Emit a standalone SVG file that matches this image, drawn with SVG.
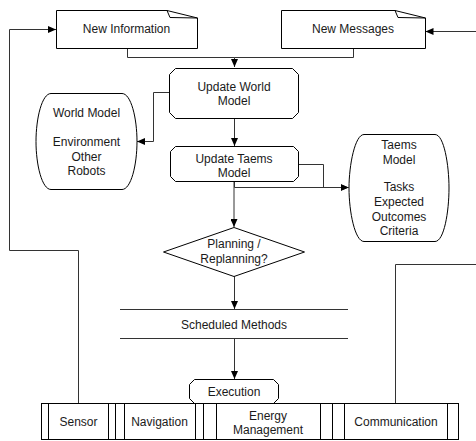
<svg xmlns="http://www.w3.org/2000/svg" width="476" height="441" viewBox="0 0 476 441">
  <style>
    .shape { fill: #fff; stroke: #000; stroke-width: 1; }
    .fold { fill: none; stroke: #000; stroke-width: 1; }
    .edge { fill: none; stroke: #333; stroke-width: 1; }
    .label { font-family: "Liberation Sans", Arial, Helvetica, sans-serif; font-size: 12px; fill: #1a1a1a; text-anchor: middle; }
  </style>
  <defs>
    <marker id="arrow" markerUnits="userSpaceOnUse" markerWidth="8" markerHeight="7" refX="8" refY="3.5" orient="auto">
      <path d="M0,0 L8,3.5 L0,7 Z" fill="#000"/>
    </marker>
  </defs>

  <rect width="476" height="441" fill="#fff"/>

  <!-- connectors -->
  <g id="connectors">
    <path class="edge" d="M127.5,48 V57.5 H234.5 V67" marker-end="url(#arrow)"/>
    <path class="edge" d="M353.5,48 V57.5 H234.5"/>
    <path class="edge" d="M169,92.5 H153.5 V141.5 H137" marker-end="url(#arrow)"/>
    <path class="edge" d="M234.5,118.5 V146" marker-end="url(#arrow)"/>
    <path class="edge" d="M298.5,164.5 H323.5 V187.5 H348.5" marker-end="url(#arrow)"/>
    <path class="edge" d="M234.5,181.5 V187.5 H348.5" marker-end="url(#arrow)"/>
    <path class="edge" d="M234,181.5 V227" marker-end="url(#arrow)" stroke="#000" stroke-width="1.5"/>
    <path class="edge" d="M234.5,276 V309" marker-end="url(#arrow)"/>
    <path class="edge" d="M234.5,338.5 V379" marker-end="url(#arrow)"/>
    <path class="edge" d="M78.5,403 V250.5 H9.5 V29.5 H56" marker-end="url(#arrow)"/>
    <path class="edge" d="M395.5,403 V264.5 H480 V31.5 H425.5" marker-end="url(#arrow)"/>
  </g>

  <!-- incoming documents -->
  <g id="new-information">
    <path class="shape" d="M56.5,10.5 H167 L197.5,18 V48.5 H56.5 Z"/>
    <path class="fold" d="M167,10.5 L170,17.5 L197.5,18"/>
    <text class="label" x="126.5" y="33">New Information</text>
  </g>
  <g id="new-messages">
    <path class="shape" d="M281.5,10.5 H395 L425.5,18 V48.5 H281.5 Z"/>
    <path class="fold" d="M395,10.5 L398,17.5 L425.5,18"/>
    <text class="label" x="353" y="33">New Messages</text>
  </g>

  <!-- processing steps -->
  <g id="update-world-model">
    <path class="shape" d="M175.5,68.5 H292.5 L298.5,74.5 V112.5 L292.5,118.5 H175.5 L169.5,112.5 V74.5 Z"/>
    <text class="label" x="234" y="91">Update World</text>
    <text class="label" x="234" y="105">Model</text>
  </g>
  <g id="world-model">
    <path class="shape" d="M51,93.5 H122 C131,93.5 137,118 137,141.5 C137,165 131,189.5 122,189.5 H51 C42,189.5 36,165 36,141.5 C36,118 42,93.5 51,93.5 Z"/>
    <text class="label" x="86.5" y="117">World Model</text>
    <text class="label" x="86.5" y="146">Environment</text>
    <text class="label" x="86.5" y="160.5">Other</text>
    <text class="label" x="86.5" y="175">Robots</text>
  </g>
  <g id="update-taems-model">
    <path class="shape" d="M175.5,146.5 H293.5 L298.5,151.5 V176.5 L293.5,181.5 H175.5 L170.5,176.5 V151.5 Z"/>
    <text class="label" x="234" y="163">Update Taems</text>
    <text class="label" x="234" y="177">Model</text>
  </g>
  <g id="taems-model">
    <path class="shape" d="M364,134.5 H435 C444,134.5 449,165 449,188 C449,212 444,241.5 435,241.5 H364 C355,241.5 349,212 349,188 C349,165 355,134.5 364,134.5 Z"/>
    <text class="label" x="399" y="149">Taems</text>
    <text class="label" x="399" y="164">Model</text>
    <text class="label" x="399" y="191">Tasks</text>
    <text class="label" x="399" y="206">Expected</text>
    <text class="label" x="399" y="221">Outcomes</text>
    <text class="label" x="399" y="235">Criteria</text>
  </g>
  <g id="planning">
    <path class="shape" d="M234,227.5 L304.5,252 L234,276.5 L163.5,252 Z"/>
    <text class="label" x="234" y="248">Planning /</text>
    <text class="label" x="234" y="263">Replanning?</text>
  </g>
  <g id="scheduled-methods">
    <path class="edge" d="M120,309.5 H348 M120,338.5 H348" stroke="#444"/>
    <text class="label" x="234" y="329">Scheduled Methods</text>
  </g>
  <g id="execution">
    <path class="shape" d="M194.5,379.5 H273.5 L278.5,384.5 V398.5 L273.5,403.5 H194.5 L189.5,398.5 V384.5 Z"/>
    <text class="label" x="234" y="396">Execution</text>
  </g>

  <!-- subsystems -->
  <g id="sensor">
    <rect class="shape" x="41.5" y="403.5" width="74" height="36"/>
    <path class="fold" d="M48.5,403.5 V439.5 M108.5,403.5 V439.5"/>
    <text class="label" x="78.5" y="426">Sensor</text>
  </g>
  <g id="navigation">
    <rect class="shape" x="115.5" y="403.5" width="88" height="36"/>
    <path class="fold" d="M124.5,403.5 V439.5 M195.5,403.5 V439.5"/>
    <text class="label" x="159.5" y="426">Navigation</text>
  </g>
  <g id="energy-management">
    <rect class="shape" x="203.5" y="403.5" width="129" height="36"/>
    <path class="fold" d="M216.5,403.5 V439.5 M320.5,403.5 V439.5"/>
    <text class="label" x="268" y="419.5">Energy</text>
    <text class="label" x="268" y="433.5">Management</text>
  </g>
  <g id="communication">
    <rect class="shape" x="332.5" y="403.5" width="126" height="36"/>
    <path class="fold" d="M344.5,403.5 V439.5 M447.5,403.5 V439.5"/>
    <text class="label" x="396" y="426">Communication</text>
  </g>
</svg>
